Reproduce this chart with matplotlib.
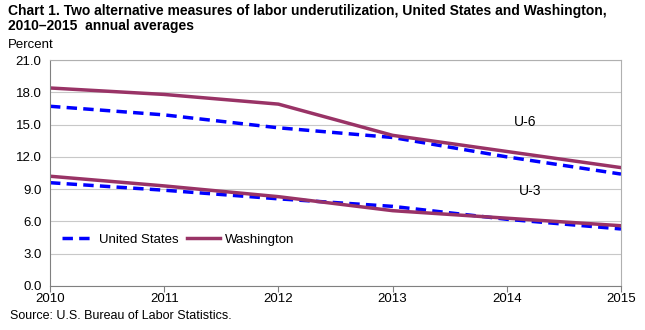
import matplotlib
matplotlib.use('Agg')
import matplotlib.pyplot as plt

years = [2010, 2011, 2012, 2013, 2014, 2015]
us_u6 = [16.7, 15.9, 14.7, 13.8, 12.0, 10.4]
us_u3 = [9.6, 8.9, 8.1, 7.4, 6.2, 5.3]
wa_u6 = [18.4, 17.8, 16.9, 14.0, 12.5, 11.0]
wa_u3 = [10.2, 9.3, 8.3, 7.0, 6.3, 5.6]

plt.rcParams['font.family'] = ['Liberation Sans', 'DejaVu Sans']

fig = plt.figure(figsize=(6.45, 3.30), dpi=100)
ax = fig.add_axes([50/645, 1-286/330, (621-50)/645, (286-60)/330])

blue = '#0000FF'
wa = '#993366'
ax.plot(years, us_u6, color=blue, lw=2.5, ls=(0, (3, 1.8)), label='United States')
ax.plot(years, wa_u6, color=wa, lw=2.5, label='Washington')
ax.plot(years, us_u3, color=blue, lw=2.5, ls=(0, (3, 1.8)))
ax.plot(years, wa_u3, color=wa, lw=2.5)

ax.set_xlim(2010, 2015)
ax.set_ylim(0, 21)
ax.set_yticks([0, 3, 6, 9, 12, 15, 18, 21])
ax.set_yticklabels(['%.1f' % v for v in [0, 3, 6, 9, 12, 15, 18, 21]], fontsize=9.5)
ax.set_xticks(years)
ax.set_xticklabels([str(y) for y in years], fontsize=9.5)
ax.grid(axis='y', color='#c8c8c8', lw=0.8)
ax.set_axisbelow(True)
for s in ['top', 'right']:
    ax.spines[s].set_color('#b0b0b0')
    ax.spines[s].set_linewidth(0.8)
for s in ['left', 'bottom']:
    ax.spines[s].set_color('#808080')
    ax.spines[s].set_linewidth(0.8)
ax.tick_params(axis='y', length=0, pad=6)
ax.tick_params(axis='x', length=4, color='#808080', pad=1)

ax.text(2014.06, 15.2, 'U-6', fontsize=10, va='center')
ax.text(2014.11, 8.8, 'U-3', fontsize=10, va='center')

ax.legend(loc='center left', bbox_to_anchor=(0.0, 0.205), ncol=2, frameon=False,
          fontsize=9.5, handlelength=2.5, columnspacing=0.6, handletextpad=0.35)

fig.text(8/645, 1-4/330, 'Chart 1. Two alternative measures of labor underutilization, United States and Washington,\n2010\u20132015  annual averages',
         fontsize=10, fontweight='bold', va='top', linespacing=1.05)
fig.text(8/645, 1-45/330, 'Percent', fontsize=9.5, va='center')
fig.text(10/645, 1-316/330, 'Source: U.S. Bureau of Labor Statistics.', fontsize=9, va='center')

fig.savefig('out.png', dpi=100)
